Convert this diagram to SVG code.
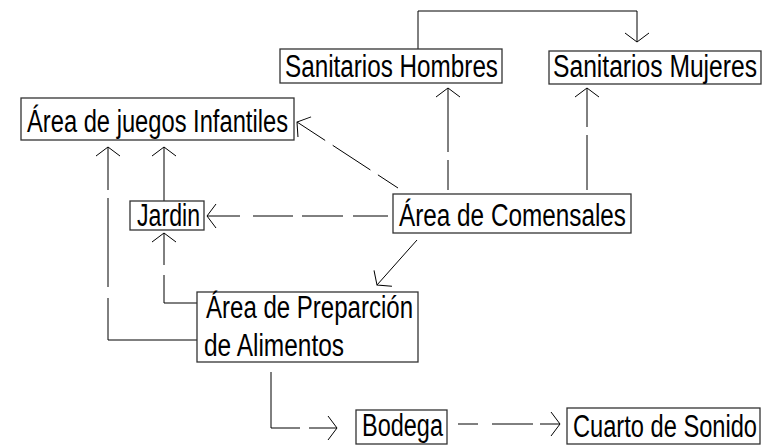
<svg xmlns="http://www.w3.org/2000/svg" width="766" height="445" viewBox="0 0 766 445">
<defs>
<style>
.box{fill:#fff;stroke:#333;stroke-width:1.3}
.t{font-family:"Liberation Sans Narrow","Liberation Sans",Arial,sans-serif;font-size:31px;fill:#000}
.c{fill:none;stroke:#000;stroke-width:1}
</style>
<marker id="ah" markerUnits="userSpaceOnUse" markerWidth="30" markerHeight="30" viewBox="-15 -15 30 30" refX="0" refY="0" orient="auto" overflow="visible">
<path d="M-9,-12 L0,0 L-9,12" fill="none" stroke="#000" stroke-width="1"/>
</marker>
</defs>
<rect width="766" height="445" fill="#fff"/>
<g id="connectors">
<path class="c" d="M418,49 V11 H637 V42" marker-end="url(#ah)"/>
<path class="c" d="M448,190 V88" stroke-dasharray="30 8 70" marker-end="url(#ah)"/>
<path class="c" d="M587,190 V88" stroke-dasharray="55 8 50" marker-end="url(#ah)"/>
<path class="c" d="M398,188 L297,122" stroke-dasharray="24 9 45 9 50" marker-end="url(#ah)"/>
<path class="c" d="M388,216 H207" stroke-dasharray="35 10 41 9 40 13 40" marker-end="url(#ah)"/>
<path class="c" d="M417,240 L377,285" marker-end="url(#ah)"/>
<path class="c" d="M197,303 H164 V233" stroke-dasharray="61 10 60" marker-end="url(#ah)"/>
<path class="c" d="M197,340 H108 V147" stroke-dasharray="131 11 89 8 60" marker-end="url(#ah)"/>
<path class="c" d="M164,201 V147" marker-end="url(#ah)"/>
<path class="c" d="M271,372 V428 H300 M309,428 H337" marker-end="url(#ah)"/>
<path class="c" d="M458,424 H478 M492,424 H533 M540,424 H560" marker-end="url(#ah)"/>
</g>
<g id="sanitarios-hombres">
<rect class="box" x="280" y="49" width="222" height="34"/>
<text class="t" x="285" y="77" textLength="213" lengthAdjust="spacingAndGlyphs">Sanitarios Hombres</text>
</g>
<g id="sanitarios-mujeres">
<rect class="box" x="549" y="51" width="212" height="33"/>
<text class="t" x="553" y="77" textLength="204" lengthAdjust="spacingAndGlyphs">Sanitarios Mujeres</text>
</g>
<g id="area-juegos">
<rect class="box" x="21" y="98" width="273" height="42"/>
<text class="t" x="27" y="132" textLength="261" lengthAdjust="spacingAndGlyphs">Área de juegos Infantiles</text>
</g>
<g id="jardin">
<rect class="box" x="130" y="201" width="74" height="29"/>
<text class="t" x="137" y="226" textLength="63" lengthAdjust="spacingAndGlyphs">Jardin</text>
</g>
<g id="area-comensales">
<rect class="box" x="393" y="194" width="238" height="39"/>
<text class="t" x="399" y="226" textLength="227" lengthAdjust="spacingAndGlyphs">Área de Comensales</text>
</g>
<g id="area-preparacion">
<rect class="box" x="197" y="292" width="221" height="70"/>
<text class="t" x="206" y="318" textLength="207" lengthAdjust="spacingAndGlyphs">Área de Preparción</text>
<text class="t" x="204" y="356" textLength="140" lengthAdjust="spacingAndGlyphs">de Alimentos</text>
</g>
<g id="bodega">
<rect class="box" x="356" y="410" width="91" height="34"/>
<text class="t" x="362" y="436" textLength="81" lengthAdjust="spacingAndGlyphs">Bodega</text>
</g>
<g id="cuarto-sonido">
<rect class="box" x="567" y="408" width="193" height="36"/>
<text class="t" x="573" y="437" textLength="184" lengthAdjust="spacingAndGlyphs">Cuarto de Sonido</text>
</g>
</svg>
